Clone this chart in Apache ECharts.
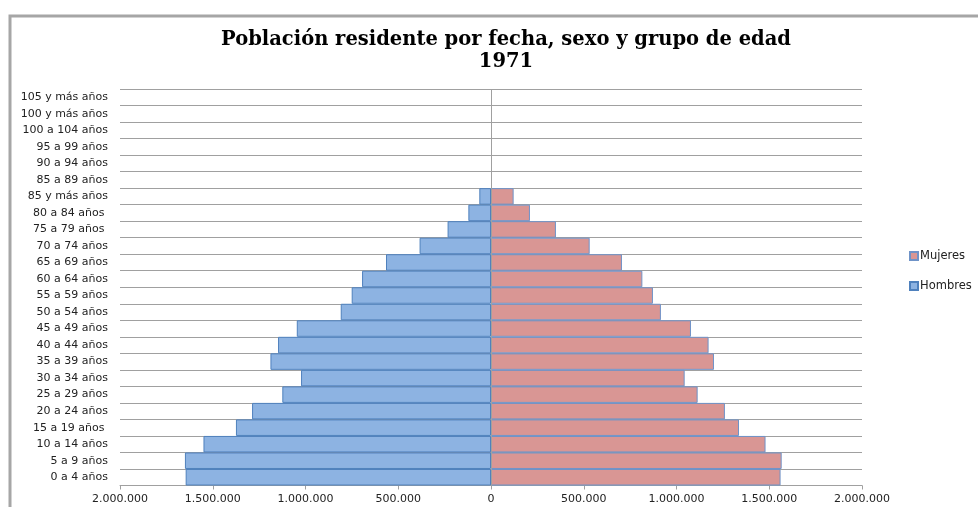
<!DOCTYPE html>
<html>
<head>
<meta charset="utf-8">
<script src="https://cdn.jsdelivr.net/npm/echarts@6/dist/echarts.min.js"></script>
<style>
  html, body { margin: 0; padding: 0; background: #ffffff; }
  #chart { width: 978px; height: 507px; }
</style>
</head>
<body>
<div id="chart"></div>
<script>
// Categories, top to bottom as in the reference
var categories = [
  '105 y más años', '100 y más años', '100 a 104 años', '95 a 99 años',
  '90 a 94 años', '85 a 89 años', '85 y más años', '80 a 84 años ',
  '75 a 79 años ', '70 a 74 años', '65 a 69 años', '60 a 64 años',
  '55 a 59 años', '50 a 54 años', '45 a 49 años', '40 a 44 años',
  '35 a 39 años', '30 a 34 años', '25 a 29 años', '20 a 24 años',
  '15 a 19 años ', '10 a 14 años', '5 a 9 años', '0 a 4 años'
];
// Population (persons), same order as categories
var hombres = [null, null, null, null, null, null,
  63000, 122000, 234000, 385000, 566000, 695000,
  751000, 810000, 1047000, 1148000, 1189000, 1024000,
  1125000, 1288000, 1375000, 1550000, 1650000, 1646000];
var mujeres = [null, null, null, null, null, null,
  122000, 210000, 350000, 532000, 706000, 816000,
  873000, 916000, 1078000, 1173000, 1202000, 1044000,
  1114000, 1261000, 1337000, 1480000, 1567000, 1561000];
var titleLines = ['Población residente por fecha, sexo y grupo de edad', '1971'];
var xMin = -2000000, xMax = 2000000, xStep = 500000;

function fmt(v) {
  var s = String(Math.abs(v));
  return s.replace(/\B(?=(\d{3})+(?!\d))/g, '.');
}

var chart = echarts.init(document.getElementById('chart'), null, {renderer: 'canvas'});
var labelFont = 'DejaVu Sans';
var titleFont = 'bold 19.5px "DejaVu Serif"';
var option = {
  backgroundColor: '#ffffff',
  animation: false,
  graphic: [
    { type: 'rect', shape: { x: 10, y: 16, width: 1100, height: 1000 },
      style: { fill: 'none', stroke: '#a6a6a6', lineWidth: 3 }, z: -1 },
    { type: 'text', x: 506, y: 30,
      style: { text: titleLines[0], textAlign: 'center', font: titleFont, fill: '#000000' } },
    { type: 'text', x: 506, y: 52,
      style: { text: titleLines[1], textAlign: 'center', font: titleFont, fill: '#000000' } }
  ],
  legend: {
    orient: 'vertical',
    left: 904, top: 245,
    itemWidth: 8, itemHeight: 8, itemGap: 18,
    icon: 'rect',
    data: ['Mujeres', 'Hombres'],
    textStyle: { fontFamily: labelFont, fontSize: 11.5, color: '#222', padding: [0, 0, 0, -3] }
  },
  grid: { left: 120, right: 116, top: 89, bottom: 21.5, containLabel: false },
  xAxis: {
    type: 'value', min: xMin, max: xMax, interval: xStep,
    axisLine: { show: true, lineStyle: { color: '#a0a0a0' } },
    axisTick: { show: true, length: 4, lineStyle: { color: '#a0a0a0' } },
    splitLine: { show: false },
    axisLabel: { formatter: fmt, fontFamily: labelFont, fontSize: 11, color: '#222', margin: 8 }
  },
  yAxis: {
    type: 'category', data: categories, inverse: true,
    axisLine: { show: false, onZero: false },
    axisTick: { show: false },
    splitLine: { show: true, lineStyle: { color: '#a0a0a0', width: 1 } },
    axisLabel: { fontFamily: labelFont, fontSize: 11, color: '#222', margin: 12 }
  },
  series: [
    {
      name: 'Mujeres', type: 'bar', stack: 'p',
      barCategoryGap: '0%',
      data: mujeres,
      itemStyle: { color: '#D99694', borderColor: '#6f93c8', borderWidth: 1 },
      markLine: {
        silent: true, symbol: 'none', label: { show: false },
        lineStyle: { color: '#a0a0a0', type: 'solid', width: 1 },
        data: [{ xAxis: 0 }]
      }
    },
    {
      name: 'Hombres', type: 'bar', stack: 'p',
      barCategoryGap: '0%',
      data: hombres.map(function (v) { return v == null ? null : -v; }),
      itemStyle: { color: '#8DB3E2', borderColor: '#4F81BD', borderWidth: 1 }
    }
  ]
};
chart.setOption(option);
</script>
</body>
</html>
